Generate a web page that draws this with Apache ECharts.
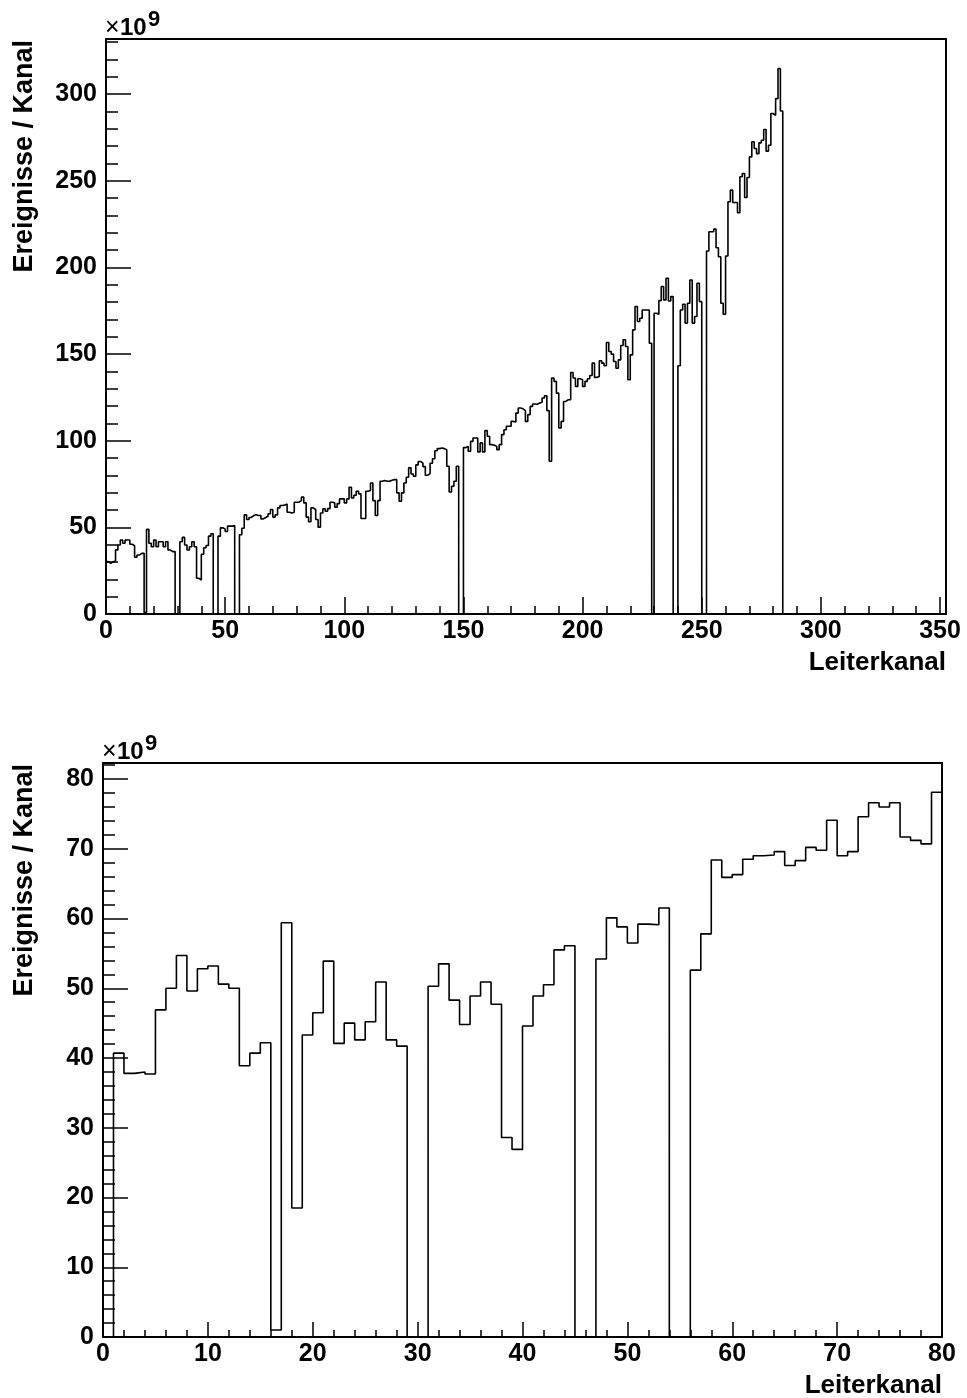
<!DOCTYPE html>
<html>
<head>
<meta charset="utf-8">
<title>Ereignisse / Kanal</title>
<script src="https://cdn.jsdelivr.net/npm/echarts@6/dist/echarts.min.js"></script>
<style>
  html, body { margin: 0; padding: 0; background: #fff; }
  #chart { width: 967px; height: 1398px; }
</style>
</head>
<body>
<div id="chart"></div>
<script>
// Ereignisse pro Leiterkanal (x10^9), kompletter Bereich, Kanal 0..283
const fullCounts = [
  30.2, 29.2, 30.2, 30.6, 37.0, 39.8, 42.7, 40.8, 42.7, 42.7,
  40.2, 39.4, 32.7, 34.0, 35.0, 35.0, 0.8, 48.8, 40.8, 38.8,
  42.7, 38.8, 41.7, 41.7, 38.8, 41.7, 36.9, 36.0, 36.0, 0,
  0, 41.7, 44.2, 39.8, 36.9, 38.8, 41.7, 38.8, 20.6, 19.6,
  34.5, 38.2, 39.5, 44.9, 46.3, 0, 0, 44.9, 49.7, 49.1,
  47.6, 50.7, 50.7, 51.0, 0, 0, 45.7, 49.5, 57.2, 54.5,
  55.7, 56.8, 57.2, 56.8, 56.8, 54.9, 55.7, 56.4, 57.8, 60.3,
  55.9, 57.2, 61.2, 62.6, 62.8, 63.5, 58.7, 58.2, 58.7, 64.5,
  64.5, 65.4, 67.4, 64.1, 55.9, 53.2, 61.2, 60.3, 54.5, 50.1,
  58.3, 60.7, 59.3, 60.8, 64.5, 64.1, 61.6, 63.7, 66.4, 66.4,
  64.1, 66.4, 73.1, 67.0, 68.5, 70.8, 69.3, 55.1, 55.1, 70.8,
  71.2, 75.6, 65.4, 56.8, 65.4, 76.6, 77.0, 76.6, 76.6, 77.2,
  77.5, 77.5, 69.9, 65.1, 69.9, 75.6, 78.9, 84.3, 80.8, 79.5,
  86.0, 88.0, 87.0, 85.0, 80.0, 81.0, 87.0, 89.6, 94.2, 95.4,
  95.8, 95.4, 94.8, 85.2, 70.4, 73.7, 76.6, 85.2, 0, 0,
  96.0, 96.7, 93.9, 99.6, 101.5, 101.5, 93.5, 98.7, 93.5, 105.8,
  102.5, 97.7, 97.3, 96.7, 94.8, 97.7, 103.5, 106.3, 108.3, 108.3,
  111.1, 110.7, 115.9, 118.8, 118.4, 117.3, 111.1, 115.0, 119.8, 121.1,
  121.0, 121.7, 122.1, 124.6, 125.9, 117.3, 88.1, 136.1, 134.2, 127.4,
  107.3, 111.1, 122.6, 123.6, 123.6, 139.3, 136.1, 131.3, 135.7, 135.1,
  131.3, 134.2, 135.7, 137.6, 144.7, 136.5, 137.0, 146.1, 144.7, 143.2,
  156.6, 151.4, 149.9, 145.7, 141.8, 146.6, 154.9, 158.2, 154.3, 135.1,
  149.5, 163.9, 177.4, 168.7, 170.6, 175.4, 175.4, 175.4, 156.2, 0,
  173.5, 172.9, 180.8, 188.9, 181.2, 193.7, 180.6, 183.1, 0, 0,
  143.2, 175.4, 178.7, 167.8, 179.3, 192.7, 167.8, 171.6, 190.8, 180.2,
  0, 0, 209.4, 220.5, 220.5, 222.0, 211.3, 206.1, 179.3, 172.9,
  206.5, 237.8, 244.5, 237.4, 237.4, 231.5, 252.2, 254.1, 240.3, 251.8,
  263.7, 272.4, 268.5, 265.6, 271.8, 273.3, 279.5, 267.0, 270.4, 288.7,
  287.7, 297.3, 314.6, 290.2
];

// Ausschnitt: Kanal 0..79
const zoomCounts = [
  0, 40.7, 37.8, 38.0, 37.7, 46.9, 50.0, 54.7, 49.6, 52.8,
  53.2, 50.6, 50.0, 38.9, 40.7, 42.2, 1.0, 59.4, 18.5, 43.3,
  46.5, 53.9, 42.1, 45.0, 42.6, 45.2, 50.9, 42.6, 41.7, 0,
  0, 50.3, 53.5, 48.3, 44.8, 48.9, 50.9, 47.7, 28.6, 26.9,
  44.6, 48.9, 50.5, 55.5, 56.1, 0, 0, 54.2, 60.1, 58.8,
  56.5, 59.2, 59.1, 61.5, 0, 0, 52.6, 57.8, 68.4, 65.9,
  66.3, 68.5, 69.0, 69.1, 69.6, 67.6, 68.3, 70.2, 69.8, 74.1,
  69.0, 69.6, 74.6, 76.6, 76.0, 76.6, 71.7, 71.2, 70.7, 78.1
];

// axis ranges and tick spacing [max, major, minor]
const fullX = [352.5, 50, 10];
const fullY = [331.7, 50, 10];
const zoomX = [80, 10, 2];
const zoomY = [82.3, 10, 2];

const FONT = '"Liberation Sans", Arial, Helvetica, sans-serif';

// histogram outline: left bin edges, closed down to zero at both ends
function toSteps(counts) {
  const pts = [[0, 0]];
  counts.forEach((v, i) => pts.push([i, v]));
  pts.push([counts.length, 0]);
  return pts;
}

function mainAxis(gridIndex, range, pos, tickLen, margin) {
  return {
    type: "value",
    gridIndex,
    position: pos,
    min: 0,
    max: range[0],
    interval: range[1],
    axisLine: { show: false },
    axisTick: { show: true, inside: true, length: tickLen, lineStyle: { color: "#000", width: 1.5 } },
    axisLabel: {
      show: true,
      margin,
      color: "#000",
      fontFamily: FONT,
      fontWeight: "bold",
      fontSize: 25,
      formatter: (v) => (Math.abs(v / range[1] - Math.round(v / range[1])) < 1e-6 ? String(v) : ""),
    },
    splitLine: { show: false },
  };
}

function minorAxis(gridIndex, range, pos, tickLen) {
  return {
    type: "value",
    gridIndex,
    position: pos,
    min: 0,
    max: range[0],
    interval: range[2],
    axisLine: { show: false },
    axisTick: { show: true, inside: true, length: tickLen, lineStyle: { color: "#000", width: 1.5 } },
    axisLabel: { show: false },
    splitLine: { show: false },
  };
}

function text(x, y, str, font, align, vAlign, rotation) {
  return {
    type: "text",
    x,
    y,
    rotation: rotation || 0,
    style: {
      text: str,
      font,
      fill: "#000",
      align,
      verticalAlign: vAlign,
      textAlign: align,
      textVerticalAlign: vAlign,
    },
  };
}

const myChart = echarts.init(document.getElementById("chart"), null, { renderer: "canvas" });

const option = {
  animation: false,
  backgroundColor: "#fff",
  grid: [
    { left: 106, top: 39, width: 840, height: 575, show: true, borderColor: "#000", borderWidth: 2 },
    { left: 103, top: 763, width: 839, height: 574, show: true, borderColor: "#000", borderWidth: 2 },
  ],
  xAxis: [
    mainAxis(0, fullX, "bottom", 17, 5),
    minorAxis(0, fullX, "bottom", 8),
    mainAxis(1, zoomX, "bottom", 15, 5),
    minorAxis(1, zoomX, "bottom", 7),
  ],
  yAxis: [
    mainAxis(0, fullY, "left", 25, 9),
    minorAxis(0, fullY, "left", 12),
    mainAxis(1, zoomY, "left", 25, 9),
    minorAxis(1, zoomY, "left", 12),
  ],
  series: [
    {
      type: "line",
      xAxisIndex: 0,
      yAxisIndex: 0,
      step: "end",
      symbol: "none",
      data: toSteps(fullCounts),
      lineStyle: { color: "#000", width: 1.6 },
    },
    {
      type: "line",
      xAxisIndex: 2,
      yAxisIndex: 2,
      step: "end",
      symbol: "none",
      data: toSteps(zoomCounts),
      lineStyle: { color: "#000", width: 1.6 },
    },
  ],
  graphic: [
    // upper pad
    text(105, 28, "\u00d7", "25px " + FONT, "left", "middle"),
    text(120, 28, "10", "bold 24px " + FONT, "left", "middle"),
    text(148, 20, "9", "bold 22px " + FONT, "left", "middle"),
    text(25, 40, "Ereignisse / Kanal", "bold 27px " + FONT, "right", "middle", Math.PI / 2),
    text(946, 663, "Leiterkanal", "bold 26px " + FONT, "right", "middle"),
    // lower pad
    text(102, 752, "\u00d7", "25px " + FONT, "left", "middle"),
    text(117, 752, "10", "bold 24px " + FONT, "left", "middle"),
    text(145, 744, "9", "bold 22px " + FONT, "left", "middle"),
    text(25, 764, "Ereignisse / Kanal", "bold 27px " + FONT, "right", "middle", Math.PI / 2),
    text(942, 1386, "Leiterkanal", "bold 26px " + FONT, "right", "middle"),
  ],
};

option && myChart.setOption(option);
</script>
</body>
</html>
